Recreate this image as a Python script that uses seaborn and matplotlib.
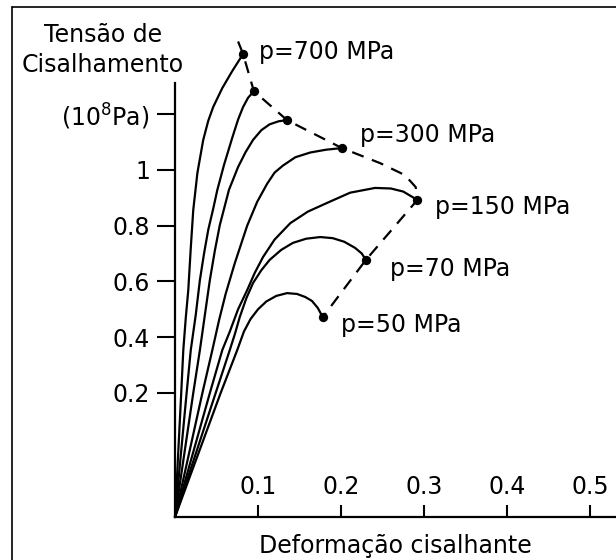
import numpy as np
import pandas as pd
import matplotlib
matplotlib.use("Agg")
import matplotlib.pyplot as plt
from matplotlib.lines import Line2D
import seaborn as sns

# Curvas tensão x deformação para cada pressão
x_700 = [0, 0.0075, 0.010, 0.013, 0.016, 0.019, 0.022, 0.027, 0.034, 0.040, 0.046, 0.057, 0.069, 0.082]
y_700 = [0, 0.200, 0.354, 0.470, 0.569, 0.720, 0.856, 0.989, 1.107, 1.175, 1.225, 1.293, 1.354, 1.415]

x_500 = [0, 0.014, 0.019, 0.025, 0.030, 0.035, 0.040, 0.046, 0.051, 0.059, 0.069, 0.076, 0.082, 0.088, 0.095]
y_500 = [0, 0.200, 0.354, 0.480, 0.605, 0.700, 0.784, 0.860, 0.928, 1.017, 1.115, 1.180, 1.225, 1.258, 1.282]

x_400 = [0, 0.022, 0.030, 0.036, 0.042, 0.048, 0.054, 0.065, 0.076, 0.085, 0.094, 0.104, 0.114, 0.125, 0.135]
y_400 = [0, 0.200, 0.354, 0.480, 0.605, 0.710, 0.802, 0.928, 1.010, 1.063, 1.107, 1.142, 1.163, 1.174, 1.178]

x_300 = [0, 0.033, 0.045, 0.053, 0.061, 0.072, 0.087, 0.099, 0.111, 0.120, 0.130, 0.145, 0.163, 0.182, 0.201]
y_300 = [0, 0.200, 0.354, 0.460, 0.555, 0.665, 0.800, 0.885, 0.950, 0.990, 1.015, 1.045, 1.062, 1.072, 1.078]

x_150 = [0, 0.042, 0.057, 0.066, 0.076, 0.087, 0.096, 0.106, 0.120, 0.139, 0.160, 0.183, 0.211, 0.241, 0.260, 0.275, 0.292]
y_150 = [0, 0.200, 0.354, 0.420, 0.500, 0.569, 0.630, 0.687, 0.750, 0.809, 0.850, 0.881, 0.918, 0.935, 0.933, 0.922, 0.892]

x_70 = [0, 0.049, 0.066, 0.072, 0.078, 0.086, 0.094, 0.104, 0.114, 0.128, 0.142, 0.158, 0.175, 0.190, 0.204, 0.217, 0.225, 0.230]
y_70 = [0, 0.200, 0.354, 0.410, 0.472, 0.540, 0.594, 0.640, 0.677, 0.713, 0.738, 0.753, 0.759, 0.755, 0.742, 0.720, 0.700, 0.677]

x_50 = [0, 0.055, 0.075, 0.083, 0.091, 0.100, 0.110, 0.122, 0.135, 0.147, 0.157, 0.165, 0.172, 0.178]
y_50 = [0, 0.200, 0.354, 0.420, 0.465, 0.500, 0.528, 0.548, 0.558, 0.555, 0.544, 0.530, 0.505, 0.472]

curvas = ["700", "500", "400", "300", "150", "70", "50"]
rotulos = ["p=700 MPa", "", "", "p=300 MPa", "p=150 MPa", "p=70 MPa", "p=50 MPa"]
xs = [x_700, x_500, x_400, x_300, x_150, x_70, x_50]
ys = [y_700, y_500, y_400, y_300, y_150, y_70, y_50]

# envoltória tracejada passando pelos pontos de ruptura
x_env = [0.076, 0.082, 0.095, 0.135, 0.201, 0.247, 0.277, 0.290, 0.292, 0.230, 0.178]
y_env = [1.460, 1.415, 1.282, 1.178, 1.078, 1.024, 0.981, 0.938, 0.892, 0.677, 0.472]

yticks = [0.2, 0.4, 0.6, 0.8, 1.0, 1.2]
ytick_labels = ["0.2", "0.4", "0.6", "0.8", "1", "(10$^8$Pa)"]
xticks = [0.1, 0.2, 0.3, 0.4, 0.5]
xtick_labels = ["0.1", "0.2", "0.3", "0.4", "0.5"]

df = pd.concat(
    [pd.DataFrame({"deformacao": x, "tensao": y, "curva": c}) for c, x, y in zip(curvas, xs, ys)],
    ignore_index=True,
)
pontos = pd.DataFrame({"deformacao": [x[-1] for x in xs], "tensao": [y[-1] for y in ys]})
env = pd.DataFrame({"deformacao": x_env, "tensao": y_env})

sns.set_theme(style="white")
plt.rcParams["font.family"] = ["DejaVu Sans"]
plt.rcParams.update({"text.color": "black", "axes.labelcolor": "black",
                     "xtick.color": "black", "ytick.color": "black"})


# eixo vertical desenhado à mão: trecho 0-0.2 mais esticado
def fwd(y):
    y = np.asarray(y, dtype=float)
    return np.where(y < 0.2, y * 620, 124 + (y - 0.2) * 279)


def inv(h):
    h = np.asarray(h, dtype=float)
    return np.where(h < 124, h / 620, 0.2 + (h - 124) / 279)


fig = plt.figure(figsize=(6.16, 5.6), dpi=100)
ax = fig.add_axes([175 / 616, 1 - 517 / 560, 1 - 175 / 616, (517 - 30) / 560])

sns.lineplot(data=df, x="deformacao", y="tensao", units="curva", estimator=None,
             sort=False, color="black", lw=1.6, ax=ax, clip_on=False)
sns.lineplot(data=env, x="deformacao", y="tensao", estimator=None, sort=False,
             color="black", lw=1.6, ax=ax, clip_on=False)
ax.lines[-1].set_dashes((5.5, 4))
sns.scatterplot(data=pontos, x="deformacao", y="tensao", color="black", s=45,
                edgecolor="black", linewidth=0, ax=ax, clip_on=False, zorder=5)

ax.set_yscale("function", functions=(fwd, inv))
ax.set_xlim(0, (616 - 175) / 830)
ax.set_ylim(0, float(inv(487)))

# rótulos de pressão ao lado de cada ponto final
offsets = [(11.5, 1.5), None, None, (13, 9.5), (13, -5), (17, -6.5), (13, -6)]
for rot, x, y, off in zip(rotulos, xs, ys, offsets):
    if rot:
        ax.annotate(rot, (x[-1], y[-1]), xytext=off, textcoords="offset points",
                    ha="left", va="center", fontsize=17)

ax.set_yticks(yticks)
ax.set_yticklabels(ytick_labels)
ax.set_xticks(xticks)
ax.set_xticklabels(xtick_labels)
ax.tick_params(axis="y", direction="out", length=13, width=1.5, pad=5, labelsize=17, left=True)
ax.tick_params(axis="x", direction="in", length=9, width=1.5, pad=-30, labelsize=17, bottom=True)

for s in ["top", "right"]:
    ax.spines[s].set_visible(False)
for s in ["left", "bottom"]:
    ax.spines[s].set_linewidth(1.6)
    ax.spines[s].set_color("black")
ax.spines["left"].set_bounds(0, float(inv(434)))

ax.set_ylabel("")
ax.set_xlabel("Deformação cisalhante", fontsize=17, labelpad=12)

fig.text(103 / 616, 1 - 50 / 560, "Tensão de\nCisalhamento", ha="center", va="center",
         fontsize=17, linespacing=1.3)

# moldura da figura escaneada (só topo e lado esquerdo)
fig.add_artist(Line2D([12 / 616, 12 / 616], [0, 1 - 7 / 560], color="black", lw=1.2))
fig.add_artist(Line2D([12 / 616, 1], [1 - 7 / 560, 1 - 7 / 560], color="black", lw=1.2))

fig.savefig("out.png", dpi=100)
